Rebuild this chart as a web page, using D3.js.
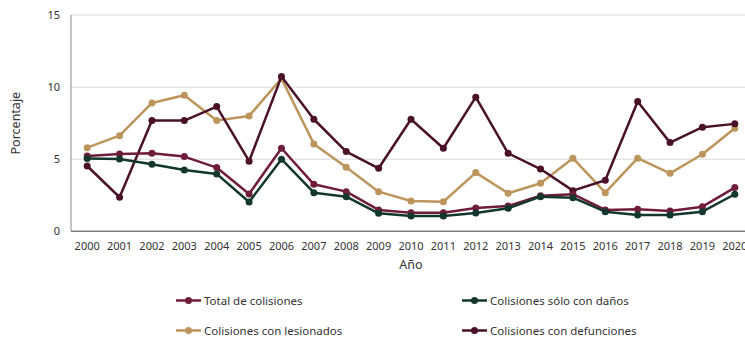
<!DOCTYPE html>
<html>
<head>
<meta charset="utf-8">
<script src="https://cdn.jsdelivr.net/npm/d3@7"></script>
<style>
  body { margin: 0; background: #fff; }
  svg { font-family: "Noto Sans", "Open Sans", sans-serif; }
</style>
</head>
<body>
<svg id="chart" width="745" height="338"></svg>
<script>
// Data
const years = ["2000","2001","2002","2003","2004","2005","2006","2007","2008","2009","2010",
    "2011","2012","2013","2014","2015","2016","2017","2018","2019","2020"];
const totalColisiones = [5.22,5.36,5.41,5.18,4.42,2.59,5.76,3.26,2.75,1.48,1.29,1.29,1.62,1.76,2.47,2.57,1.48,1.53,1.41,1.71,3.03];
const soloDanos = [5.04,5.02,4.65,4.25,3.98,2.03,5.0,2.68,2.40,1.25,1.06,1.06,1.27,1.6,2.40,2.33,1.36,1.13,1.13,1.36,2.57];
const conLesionados = [5.80,6.63,8.90,9.44,7.68,8.0,10.6,6.06,4.44,2.75,2.10,2.05,4.07,2.64,3.33,5.07,2.68,5.07,4.02,5.34,7.15];
const conDefunciones = [4.53,2.36,7.68,7.68,8.65,4.86,10.73,7.77,5.53,4.37,7.77,5.76,9.3,5.41,4.32,2.82,3.54,9.0,6.15,7.22,7.45];
const yTicks = [0, 5, 10, 15];

const series = [
    { name: "Total de colisiones", values: totalColisiones, color: "#6f1d3b" },
    { name: "Colisiones sólo con daños", values: soloDanos, color: "#13372c" },
    { name: "Colisiones con lesionados", values: conLesionados, color: "#bc955c" },
    { name: "Colisiones con defunciones", values: conDefunciones, color: "#4a1226" }
];

const svg = d3.select("#chart");
const margin = { left: 71, right: -6, top: 15, bottom: 107 };
const width = 745, height = 338;

const x = d3.scalePoint()
    .domain(years)
    .range([margin.left, width - margin.right])
    .padding(0.5);
const y = d3.scaleLinear()
    .domain([0, 15])
    .range([height - margin.bottom + 0.3, margin.top]);

// gridlines
svg.append("g")
    .selectAll("line")
    .data(yTicks.filter(d => d > 0))
    .join("line")
        .attr("x1", margin.left)
        .attr("x2", width)
        .attr("y1", d => y(d))
        .attr("y2", d => y(d))
        .attr("stroke", "#d9d9d9")
        .attr("stroke-width", 1);

// y tick labels
svg.append("g")
    .selectAll("text")
    .data(yTicks)
    .join("text")
        .attr("x", 60)
        .attr("y", d => y(d))
        .attr("dy", "0.35em")
        .attr("text-anchor", "end")
        .attr("font-size", "11px")
        .attr("fill", "#333")
        .text(d => d);

// axes lines
svg.append("line")
    .attr("x1", margin.left).attr("x2", margin.left)
    .attr("y1", y(15)).attr("y2", y(0))
    .attr("stroke", "#8c8c8c").attr("stroke-width", 1);
svg.append("line")
    .attr("x1", margin.left).attr("x2", width)
    .attr("y1", y(0)).attr("y2", y(0))
    .attr("stroke", "#7f7f7f").attr("stroke-width", 1.5);

// x tick labels (last one runs off the edge, as in the original)
svg.append("g")
    .selectAll("text")
    .data(years)
    .join("text")
        .attr("x", d => x(d))
        .attr("y", 250)
        .attr("text-anchor", "middle")
        .attr("font-size", "11px")
        .attr("fill", "#333")
        .text(d => d);

// axis titles
svg.append("text")
    .attr("x", 411).attr("y", 269)
    .attr("text-anchor", "middle")
    .attr("font-size", "12.5px")
    .attr("fill", "#333")
    .text("Año");
svg.append("text")
    .attr("transform", `translate(20, ${y(7.5)}) rotate(-90)`)
    .attr("text-anchor", "middle")
    .attr("font-size", "12.5px")
    .attr("fill", "#333")
    .text("Porcentaje");

// lines + points
const line = d3.line()
    .x((d, i) => x(years[i]))
    .y(d => y(d));

const drawOrder = [series[2], series[3], series[0], series[1]];
drawOrder.forEach(s => {
    const g = svg.append("g");
    g.append("path")
        .datum(s.values)
        .attr("fill", "none")
        .attr("stroke", s.color)
        .attr("stroke-width", 2.5)
        .attr("stroke-linejoin", "round")
        .attr("d", line);
    g.selectAll("circle")
        .data(s.values)
        .join("circle")
            .attr("cx", (d, i) => x(years[i]))
            .attr("cy", d => y(d))
            .attr("r", 3.5)
            .attr("fill", s.color);
});

// legend
const legendPos = [
    { x: 176, y: 300.5 }, { x: 462, y: 300.5 },
    { x: 176, y: 330.5 }, { x: 462, y: 330.5 }
];
series.forEach((s, i) => {
    const p = legendPos[i];
    const g = svg.append("g").attr("transform", `translate(${p.x}, ${p.y})`);
    g.append("line")
        .attr("x1", 0).attr("x2", 25)
        .attr("stroke", s.color).attr("stroke-width", 2.5);
    g.append("circle")
        .attr("cx", 12.5).attr("r", 3.5)
        .attr("fill", s.color);
    g.append("text")
        .attr("x", 28)
        .attr("dy", "0.35em")
        .attr("font-size", "11.5px")
        .attr("fill", "#333")
        .text(s.name);
});
</script>
</body>
</html>
